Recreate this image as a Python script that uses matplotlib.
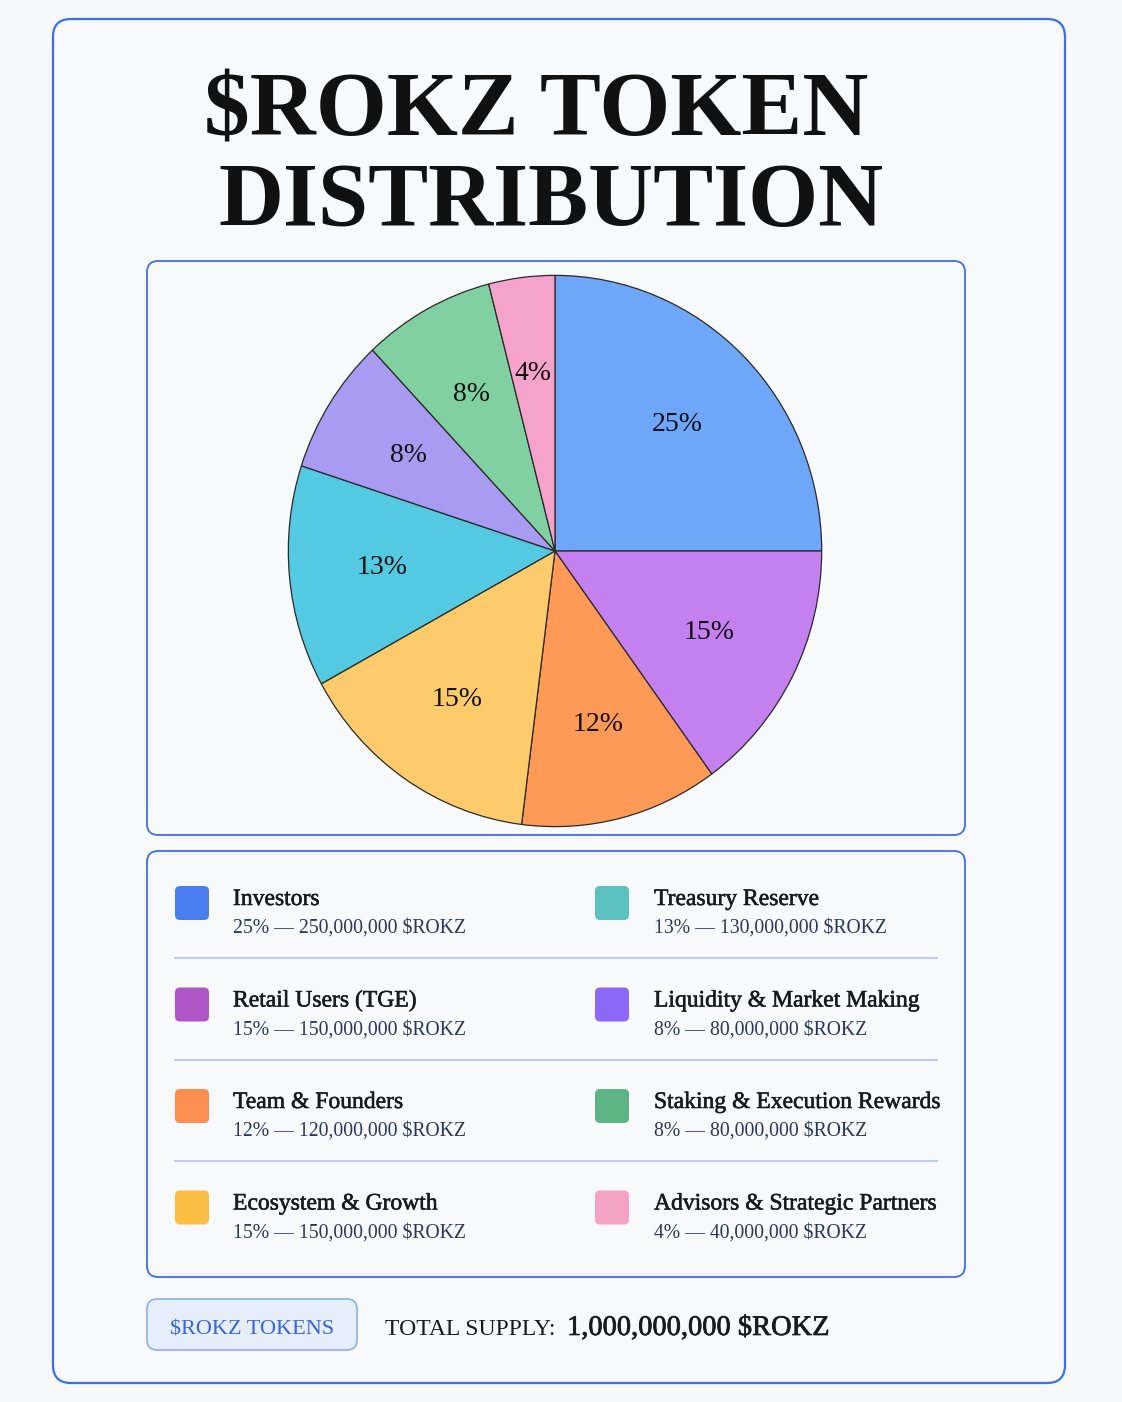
import matplotlib
matplotlib.use("Agg")
import matplotlib.pyplot as plt
from matplotlib.patches import FancyBboxPatch
from matplotlib.lines import Line2D
import matplotlib.patheffects as pe

# ---------------- data ----------------
categories = ["Investors", "Retail Users (TGE)", "Team & Founders", "Ecosystem & Growth",
              "Treasury Reserve", "Liquidity & Market Making", "Staking & Execution Rewards",
              "Advisors & Strategic Partners"]
shares = [25, 15, 12, 15, 13, 8, 8, 4]
tokens = [250_000_000, 150_000_000, 120_000_000, 150_000_000,
          130_000_000, 80_000_000, 80_000_000, 40_000_000]
pie_colors = ["#6ea6f9", "#c480ee", "#fe9956", "#fecb6c",
              "#54cae2", "#a89bf1", "#80d0a2", "#f5a3cb"]
legend_colors = ["#4a7ef0", "#b057c8", "#fb8f52", "#fbbe44",
                 "#5bc2c0", "#8b68f5", "#5db586", "#f4a3c6"]
title_lines = ["$ROKZ TOKEN", "DISTRIBUTION"]
total_supply = 1_000_000_000
ticker = "$ROKZ"

SERIF = ["Liberation Serif", "DejaVu Serif"]
plt.rcParams["font.family"] = SERIF

W, H = 1122, 1402
fig = plt.figure(figsize=(W / 100, H / 100), dpi=100)
fig.patch.set_facecolor("#f7f8f9")

bg = fig.add_axes([0, 0, 1, 1])
bg.set_xlim(0, W)
bg.set_ylim(H, 0)
bg.axis("off")

BLUE = "#3a6ff0"

def rbox(x0, y0, x1, y1, r, fc, ec, lw=1.5, z=1):
    p = FancyBboxPatch((x0, y0), x1 - x0, y1 - y0,
                       boxstyle=f"round,pad=0,rounding_size={r}",
                       fc=fc, ec=ec, lw=lw, zorder=z)
    bg.add_patch(p)
    return p

# outer card
rbox(53, 19, 1065, 1383, 18, "#f8f9fa", BLUE, lw=1.6)
# pie panel
rbox(147, 261, 965, 835, 11, "#f8f9fa", BLUE, lw=1.3)
# legend panel
rbox(147, 851, 965, 1277, 11, "#f8f9fa", BLUE, lw=1.3)

# ---------------- title ----------------
fig.canvas.draw()
renderer = fig.canvas.get_renderer()

def fit_text(x, y, s, target_w, size0, **kw):
    t = bg.text(x, y, s, fontsize=size0, **kw)
    bb = t.get_window_extent(renderer=renderer)
    t.set_fontsize(size0 * target_w / bb.width)
    return t

fit_text(536, 136, title_lines[0], 665, 60, ha="center", va="baseline",
         fontweight="bold", color="#111111", zorder=5)
fit_text(551, 226, title_lines[1], 666, 60, ha="center", va="baseline",
         fontweight="bold", color="#111111", zorder=5)

# ---------------- pie ----------------
cx, cy, rx, ry = 555, 551, 268, 277
pax = fig.add_axes([(cx - rx) / W, 1 - (cy + ry) / H, 2 * rx / W, 2 * ry / H])
wedges, texts, autotexts = pax.pie(
    shares, colors=pie_colors, startangle=90, counterclock=False,
    autopct=lambda p: f"{p:.0f}%", pctdistance=0.65,
    wedgeprops=dict(edgecolor="#2a2a2a", linewidth=0.9),
    textprops=dict(fontsize=20, color="#111111", family=SERIF))
pax.set_aspect("auto")
pax.set_xlim(-1.005, 1.005)
pax.set_ylim(-1.005, 1.005)
pax.axis("off")

# ---------------- legend ----------------
row_pitch = 101.5
name_base0 = 905
sub_base0 = 933
sq_c0 = 903
col_sq_x = [175, 595]
col_txt_x = [233, 654]
thick = [pe.withStroke(linewidth=0.4, foreground="#1a1a1a")]
for i, (name, sh, tk, col) in enumerate(zip(categories, shares, tokens, legend_colors)):
    c = i // 4
    r = i % 4
    yc = sq_c0 + r * row_pitch
    sq = FancyBboxPatch((col_sq_x[c], yc - 17), 34, 34,
                        boxstyle="round,pad=0,rounding_size=5",
                        fc=col, ec="none", zorder=3)
    bg.add_patch(sq)
    bg.text(col_txt_x[c], name_base0 + r * row_pitch, name, fontsize=17,
            color="#1a1a1a", ha="left", va="baseline", zorder=4,
            path_effects=thick)
    bg.text(col_txt_x[c], sub_base0 + r * row_pitch,
            f"{sh}% \u2014 {tk:,} {ticker}", fontsize=14.2, color="#2b365e",
            ha="left", va="baseline", zorder=4)

for r in range(3):
    y = 958 + r * row_pitch
    bg.add_line(Line2D([175, 937], [y, y], color="#bccaf4", lw=1.4, zorder=2))

# ---------------- footer ----------------
rbox(147, 1299, 357, 1350, 10, "#e6eefc", "#8eaef2", lw=1.2)
bg.text(252, 1334, f"{ticker} TOKENS", fontsize=16, color="#3565e0",
        ha="center", va="baseline", zorder=4)
bg.text(385, 1335, "TOTAL SUPPLY:", fontsize=17, color="#1a1a1a",
        ha="left", va="baseline", zorder=4)
bg.text(567, 1335, f"{total_supply:,} {ticker}", fontsize=20.5,
        color="#1a1a1a", ha="left", va="baseline", zorder=4,
        path_effects=[pe.withStroke(linewidth=0.5, foreground="#1a1a1a")])

fig.savefig("out.png", dpi=100, facecolor=fig.get_facecolor())
